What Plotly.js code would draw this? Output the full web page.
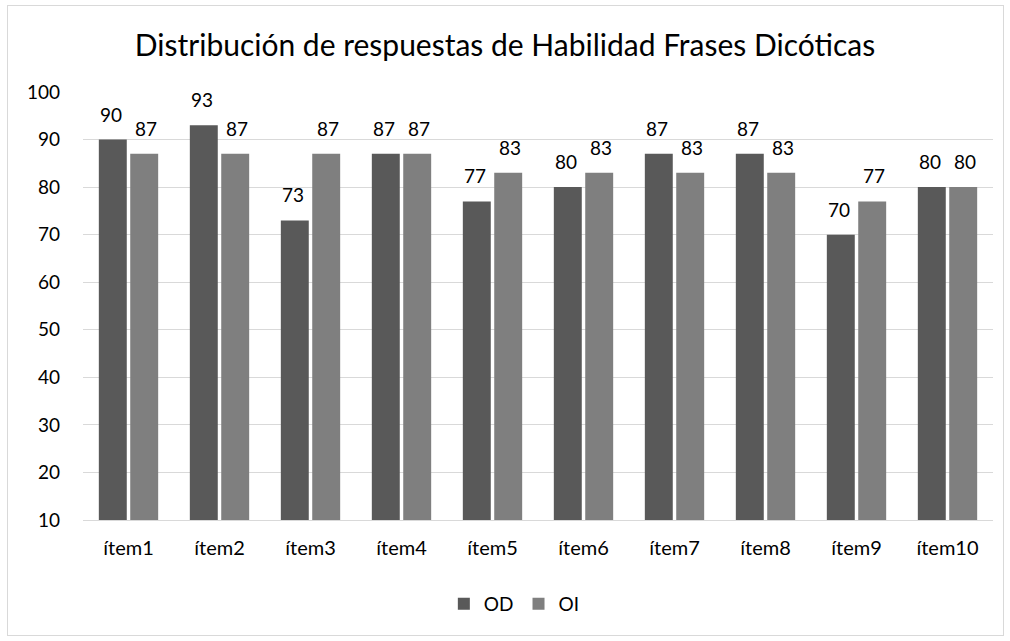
<!DOCTYPE html>
<html><head><meta charset="utf-8">
<script src="https://cdn.plot.ly/plotly-3.0.1.min.js"></script>
<style>
html,body{margin:0;padding:0;background:#fff;}
#frame{position:absolute;left:7px;top:5px;width:995px;height:629px;border:1px solid #d9d9d9;}
#chart{position:absolute;left:0;top:0;width:1010px;height:641px;}
</style></head>
<body>
<div id="frame"></div>
<div id="chart"></div>
<script>
const categories = ["ítem1","ítem2","ítem3","ítem4","ítem5","ítem6","ítem7","ítem8","ítem9","ítem10"];
const odValues = [90,93,73,87,77,80,87,87,70,80];
const oiValues = [87,87,87,87,83,83,83,83,77,80];
const yTicks = [10,20,30,40,50,60,70,80,90,100];

const font = "Lato, 'Open Sans', sans-serif";
const traces = [
  {type:'bar', name:'OD', x:categories, y:odValues, base:0, marker:{color:'#595959'}},
  {type:'bar', name:'OI', x:categories, y:oiValues, base:0, marker:{color:'#7f7f7f'}}
];
const annotations = [];
categories.forEach((c,i)=>{
  annotations.push({x:c, y:odValues[i], xref:'x', yref:'y', text:String(odValues[i]), showarrow:false, xshift:-17.5, yanchor:'bottom', yshift:12, font:{size:19,family:font,color:'#000'}});
  annotations.push({x:c, y:oiValues[i], xref:'x', yref:'y', text:String(oiValues[i]), showarrow:false, xshift:17.5, yanchor:'bottom', yshift:12, font:{size:19,family:font,color:'#000'}});
});
const layout = {
  width:1010, height:641,
  paper_bgcolor:'rgba(0,0,0,0)', plot_bgcolor:'rgba(0,0,0,0)',
  margin:{l:83,r:17,t:92,b:121},
  font:{family:font,color:'#000',size:19},
  title:{text:'Distribución de respuestas de Habilidad Frases Dicóticas', font:{size:30,family:font,color:'#000'}, x:0.5, xanchor:'center', y:1-45/641, yanchor:'middle'},
  barmode:'group', bargap:0.31, bargroupgap:0.11,
  xaxis:{type:'category', showgrid:false, showline:true, linecolor:'#d9d9d9', linewidth:1, ticks:'', tickfont:{size:20}, ticklabelstandoff:10},
  yaxis:{range:[10,100], tickvals:yTicks, showgrid:true, gridcolor:'#d9d9d9', gridwidth:1, zeroline:false, showline:false, ticks:'', tickfont:{size:19}, ticklabelstandoff:22, fixedrange:true},
  annotations: annotations,
  showlegend:true,
  legend:{orientation:'h', x:0.474, xanchor:'center', y:-(604-520)/428, yanchor:'middle', font:{size:19}, itemwidth:30, traceorder:'normal'}
};
Plotly.newPlot('chart', traces, layout, {displayModeBar:false, staticPlot:true});
</script>
</body></html>
